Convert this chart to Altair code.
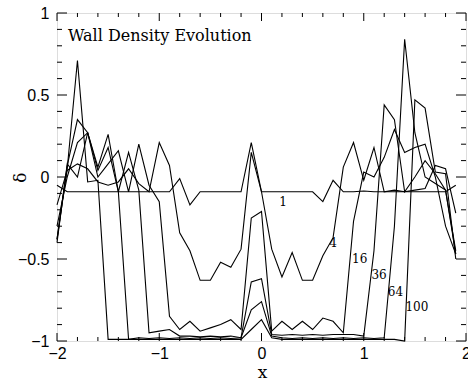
import altair as alt
import pandas as pd

# ---- data ----
x_grid = [-2.0, -1.9, -1.8, -1.7, -1.6, -1.5, -1.4, -1.3, -1.2, -1.1,
          -1.0, -0.9, -0.8, -0.7, -0.6, -0.5, -0.4, -0.3, -0.2, -0.1,
          0.0, 0.1, 0.2, 0.3, 0.4, 0.5, 0.6, 0.7, 0.8, 0.9,
          1.0, 1.1, 1.2, 1.3, 1.4, 1.5, 1.6, 1.7, 1.8, 1.9]

d_t1 = [-0.05, -0.09, -0.09, -0.09, -0.09, -0.09, -0.09, -0.09, -0.09, -0.09,
        -0.09, -0.09, -0.01, -0.17, -0.09, -0.09, -0.09, -0.09, -0.09, 0.21,
        -0.09, -0.09, -0.09, -0.09, -0.09, -0.09, -0.15, -0.02, -0.09, -0.09,
        -0.085, -0.09, -0.09, -0.09, -0.09, -0.09, -0.09, -0.09, -0.09, -0.05]

d_t4 = [-0.17, 0.04, 0.08, 0.05, -0.03, -0.05, -0.03, 0.05, -0.04, -0.09,
        0.21, 0.07, -0.34, -0.45, -0.63, -0.63, -0.52, -0.55, -0.44, 0.15,
        -0.09, -0.44, -0.61, -0.46, -0.63, -0.63, -0.48, -0.37, 0.06, 0.21,
        -0.02, 0.18, -0.09, -0.08, -0.09, -0.08, -0.07, 0.07, 0.05, -0.22]

d_t16 = [-0.30, 0.00, 0.21, 0.27, 0.00, 0.08, 0.16, -0.09, 0.20, -0.05,
         -0.15, -0.85, -0.93, -0.88, -0.94, -0.92, -0.90, -0.87, -0.93, -0.25,
         -0.21, -0.94, -0.88, -0.93, -0.88, -0.93, -0.86, -0.88, -0.95, -0.27,
         0.03, 0.00, 0.12, 0.29, 0.15, 0.18, 0.20, 0.00, -0.30, -0.47]

d_t36 = [-0.40, 0.08, 0.00, 0.27, 0.04, 0.18, -0.09, 0.15, -0.08, -0.95,
         -0.94, -0.93, -0.97, -0.97, -0.975, -0.97, -0.975, -0.97, -0.98, -0.64,
         -0.62, -0.96, -0.965, -0.96, -0.965, -0.96, -0.965, -0.96, -0.96, -0.96,
         -0.97, -0.45, 0.44, 0.35, -0.09, 0.00, 0.10, 0.02, -0.08, -0.45]

d_t64 = [-0.38, 0.07, 0.35, 0.27, 0.06, 0.26, -0.09, -0.99, -0.98, -0.985,
         -0.98, -0.985, -0.98, -0.985, -0.98, -0.985, -0.98, -0.985, -0.98, -0.81,
         -0.76, -0.97, -0.98, -0.985, -0.98, -0.985, -0.98, -0.985, -0.98, -0.985,
         -0.98, -0.985, -0.98, -0.30, 0.84, 0.27, 0.00, -0.04, -0.08, -0.47]

d_t100 = [-0.38, 0.05, 0.71, -0.03, -0.02, -0.99, -0.99, -0.99, -0.99, -0.99,
          -0.99, -0.99, -0.99, -0.99, -0.99, -0.99, -0.99, -0.99, -0.99, -0.93,
          -0.87, -0.98, -0.99, -0.99, -0.99, -0.99, -0.99, -0.99, -0.99, -0.99,
          -0.99, -0.99, -0.99, -0.99, -1.00, 0.47, 0.42, 0.03, 0.02, -0.50]

series_names = ["1", "4", "16", "36", "64", "100"]
series_values = [d_t1, d_t4, d_t16, d_t36, d_t64, d_t100]

label_text = ["1", "4", "16", "36", "64", "100"]
label_x = [0.21, 0.70, 0.96, 1.15, 1.31, 1.52]
label_y = [-0.15, -0.40, -0.50, -0.60, -0.70, -0.79]

x_major = [-2, -1, 0, 1, 2]
x_minor = [-1.8, -1.6, -1.4, -1.2, -0.8, -0.6, -0.4, -0.2,
           0.2, 0.4, 0.6, 0.8, 1.2, 1.4, 1.6, 1.8]
y_major = [-1, -0.5, 0, 0.5, 1]
y_minor = [-0.9, -0.8, -0.7, -0.6, -0.4, -0.3, -0.2, -0.1,
           0.1, 0.2, 0.3, 0.4, 0.6, 0.7, 0.8, 0.9]

# ---- tables ----
rows = []
for name, vals in zip(series_names, series_values):
    for xv, yv in zip(x_grid, vals):
        rows.append({"x": xv, "delta": yv, "t": name})
df = pd.DataFrame(rows)
df_lab = pd.DataFrame({"x": label_x, "delta": label_y, "txt": label_text})

W, H = 409, 328
SERIF = "DejaVu Serif"
SANS = "Liberation Sans"
xscale = alt.Scale(domain=[-2, 2], nice=False, zero=False)
yscale = alt.Scale(domain=[-1, 1], nice=False, zero=False)

minus_expr = "(datum.value < 0 ? '\u2212' : '') + format(abs(datum.value), '~g')"

lines = alt.Chart(df).mark_line(color="black", strokeWidth=1.1).encode(
    x=alt.X("x:Q", scale=xscale,
            axis=alt.Axis(values=x_major, ticks=False, domain=False, grid=False,
                          labelExpr=minus_expr, labelFont=SANS,
                          labelFontSize=16, labelColor="black", labelPadding=4,
                          labelFlush=False, title="x", titleFont=SERIF,
                          titleFontSize=17, titleFontWeight="normal", titleColor="black",
                          titleX=205, titleY=31, titleBaseline="middle")),
    y=alt.Y("delta:Q", scale=yscale,
            axis=alt.Axis(values=y_major, ticks=False, domain=False, grid=False,
                          labelExpr=minus_expr, labelFont=SANS,
                          labelFontSize=16, labelColor="black", labelPadding=8,
                          labelFlush=False, title="δ", titleFont=SERIF,
                          titleFontSize=17, titleFontWeight="normal", titleColor="black",
                          titleX=-37, titleY=164, titleAngle=270,
                          titleBaseline="middle", titleAlign="center")),
    detail="t:N",
)

labels = alt.Chart(df_lab).mark_text(
    font=SERIF, fontSize=12, color="black", align="center", baseline="middle"
).encode(
    x=alt.X("x:Q", scale=xscale),
    y=alt.Y("delta:Q", scale=yscale),
    text="txt:N",
)

def xticks(vals, length):
    d = pd.DataFrame({"x": vals})
    bottom = alt.Chart(d).mark_rule(color="black", strokeWidth=1).encode(
        x=alt.X("x:Q", scale=xscale), y=alt.value(H), y2=alt.value(H - length))
    top = alt.Chart(d).mark_rule(color="black", strokeWidth=1).encode(
        x=alt.X("x:Q", scale=xscale), y=alt.value(0), y2=alt.value(length))
    return [bottom, top]

def yticks(vals, length):
    d = pd.DataFrame({"delta": vals})
    left = alt.Chart(d).mark_rule(color="black", strokeWidth=1).encode(
        y=alt.Y("delta:Q", scale=yscale), x=alt.value(0), x2=alt.value(length))
    right = alt.Chart(d).mark_rule(color="black", strokeWidth=1).encode(
        y=alt.Y("delta:Q", scale=yscale), x=alt.value(W), x2=alt.value(W - length))
    return [left, right]

layers = [lines, labels] + xticks(x_major, 8) + xticks(x_minor, 4) + yticks(y_major, 10) + yticks(y_minor, 5)

chart = alt.layer(*layers).properties(
    width=W, height=H,
    title=alt.TitleParams(text="Wall Density Evolution", anchor="start", orient="top",
                          frame="group", offset=-30, baseline="alphabetic", dx=11, dy=22,
                          font=SERIF, fontSize=16, fontWeight="normal",
                          color="black"),
    autosize=alt.AutoSizeParams(type="none"),
    padding={"left": 57, "top": 13, "right": 2, "bottom": 47},
).configure_view(stroke="black", strokeWidth=1.2).configure(background="white")

chart.save("out.html", embed_options={"renderer": "svg", "actions": False})
